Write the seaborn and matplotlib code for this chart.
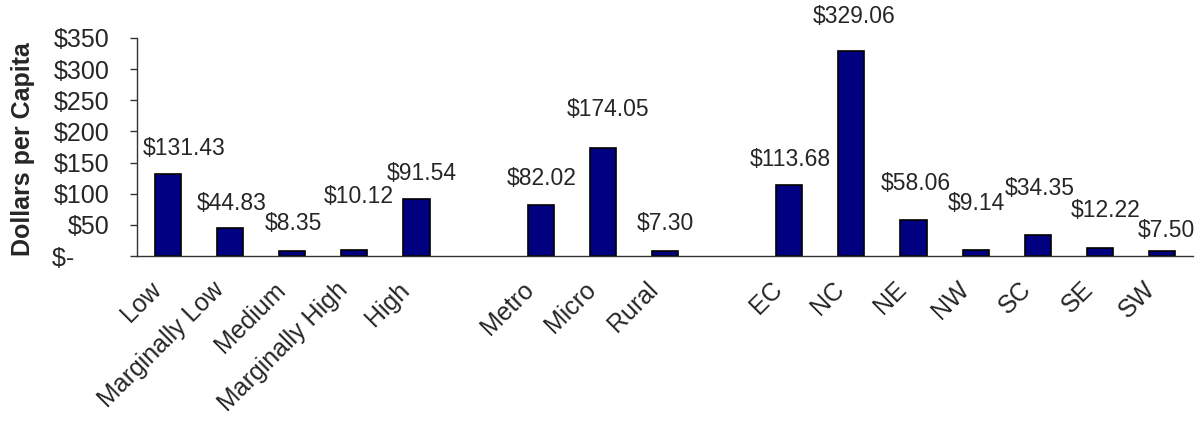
import matplotlib
matplotlib.use("Agg")
import matplotlib.pyplot as plt
import matplotlib.transforms as mtransforms
import seaborn as sns
import pandas as pd
import numpy as np

# ---------------- data ----------------
income_cats = ["Low", "Marginally Low", "Medium", "Marginally High", "High"]
income_vals = [131.43, 44.83, 8.35, 10.12, 91.54]
urban_cats = ["Metro", "Micro", "Rural"]
urban_vals = [82.02, 174.05, 7.30]
region_cats = ["EC", "NC", "NE", "NW", "SC", "SE", "SW"]
region_vals = [113.68, 329.06, 58.06, 9.14, 34.35, 12.22, 7.50]

y_ticks = [0, 50, 100, 150, 200, 250, 300, 350]
y_tick_labels = ["$-     ", "$50", "$100", "$150", "$200", "$250", "$300", "$350"]
y_label = "Dollars per Capita"

# label placement (pixel offsets of label centre from bar-top centre)
label_dx = [16, 1, 1, 4, 5, 1, 5, 0.5, 1, 2.5, 2, 1, 2.5, 6, 4]
label_dy = [26, 24.5, 27.5, 53, 25.5, 26.5, 37.6, 28, 25.5, 34.5, 36.5, 47, 46, 38, 21]

# ---------------- build ----------------
categories = income_cats + urban_cats + region_cats
values = income_vals + urban_vals + region_vals
order = income_cats + [" "] + urban_cats + ["  "] + region_cats
df = pd.DataFrame({"cat": categories, "val": values})

sns.set_style("white")
plt.rcParams["font.family"] = ["Liberation Sans", "DejaVu Sans"]
FS_TICK = 18
FS_LABEL = 16.5

fig = plt.figure(figsize=(11.99, 4.22), dpi=100)
ax = fig.add_axes([137 / 1199, (422 - 256) / 422, (1193 - 137) / 1199, (256 - 38) / 422])

sns.barplot(data=df, x="cat", y="val", order=order, color="#000080",
            saturation=1, width=0.42, edgecolor="black", linewidth=1.2, ax=ax)

ax.set_xlim(-0.5, len(order) - 0.5)
ax.set_ylim(0, 350)
ax.set_yticks(y_ticks)
ax.set_yticklabels(y_tick_labels, fontsize=FS_TICK)
ax.set_xlabel("")
ax.set_ylabel("")

# x ticks: labels at centres, tick marks at boundaries
ax.set_xticks(range(len(order)))
ax.set_xticklabels(order, fontsize=FS_TICK, rotation=45, ha="right", rotation_mode="anchor")
ax.set_xticks(np.arange(-0.5, len(order), 1.0), minor=True)
ax.tick_params(axis="x", which="major", length=0, pad=14)
ax.tick_params(axis="x", which="minor", length=5, width=1, color="#333333", direction="out")
ax.tick_params(axis="y", which="major", length=5, width=1, color="#333333", direction="out", pad=15, left=True)

shift = mtransforms.ScaledTranslation(-0.19, -0.02, fig.dpi_scale_trans)
for lbl in ax.get_xticklabels():
    lbl.set_transform(lbl.get_transform() + shift)

for s in ["top", "right"]:
    ax.spines[s].set_visible(False)
for s in ["left", "bottom"]:
    ax.spines[s].set_color("#333333")
    ax.spines[s].set_linewidth(1)

for i, (c, v) in enumerate(zip(categories, values)):
    xpos = order.index(c)
    ax.annotate(f"${v:,.2f}", xy=(xpos, v), xytext=(label_dx[i], label_dy[i]),
                textcoords="offset pixels", ha="center", va="center", fontsize=FS_LABEL)

fig.text(23 / 1199, 1 - 149 / 422, y_label, rotation=90, ha="center", va="center",
         fontsize=FS_TICK, fontweight="bold")

fig.savefig("out.png", dpi=100)
